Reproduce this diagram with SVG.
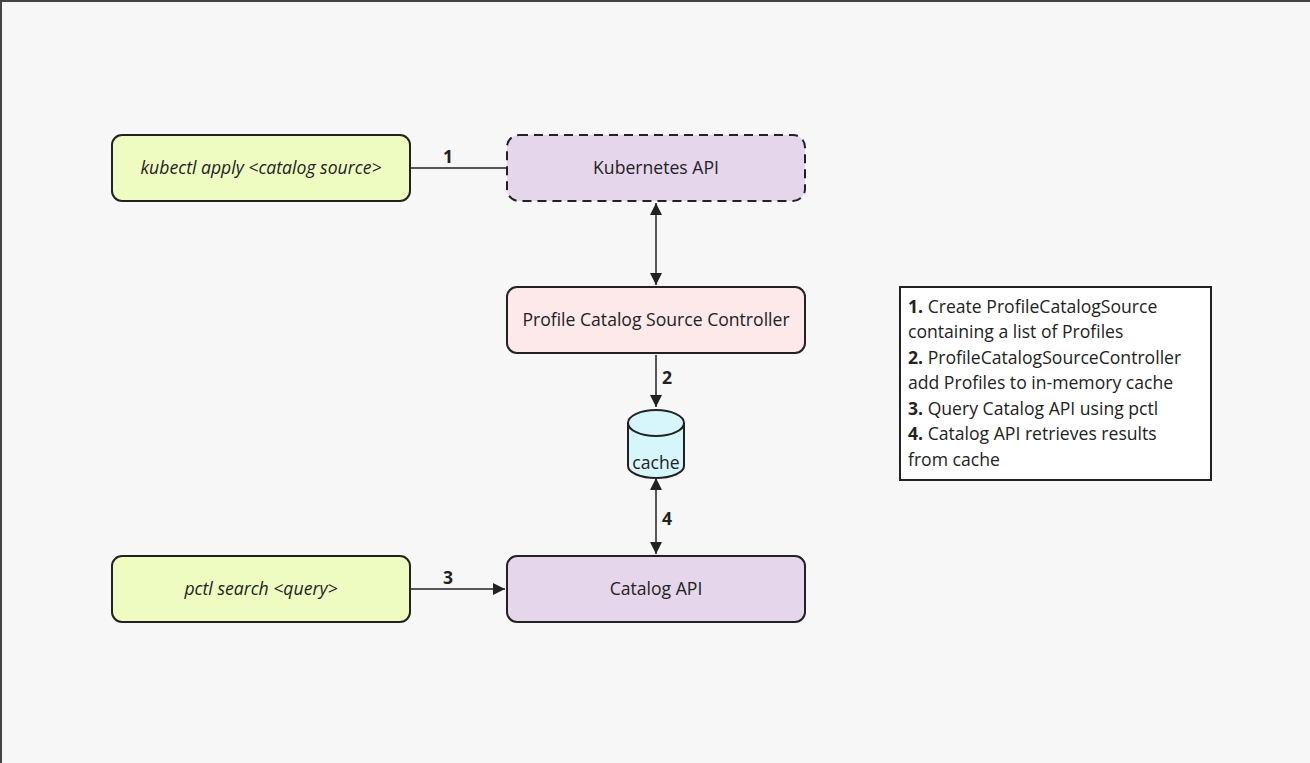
<svg xmlns="http://www.w3.org/2000/svg" width="1310" height="763" viewBox="0 0 1310 763">
<style>
.bg{fill:#f7f7f7}
.box{stroke:#222;stroke-width:2}
.lime{fill:#eefcc2}
.lav{fill:#e5d6ec}
.pink{fill:#fde9e9}
.t{font-family:"Open Sans","Noto Sans","Liberation Sans",sans-serif;font-size:17.6px;fill:#222}
.c{text-anchor:middle}
.i{font-style:italic}
.b{font-weight:bold}
.conn{stroke:#222;stroke-width:1.5;fill:none}
</style>
<defs>
<marker id="ah" viewBox="0 0 10 10" refX="10" refY="5" markerWidth="12" markerHeight="12" markerUnits="userSpaceOnUse" orient="auto-start-reverse">
<path d="M0,0 L10,5 L0,10 Z" fill="#222"/>
</marker>
</defs>
<rect class="bg" x="0" y="0" width="1310" height="763"/>
<path d="M1,763 L1,1 L1310,1" stroke="#444" stroke-width="2" fill="none"/>
<g id="connectors">
<line class="conn" x1="411" y1="168" x2="506" y2="168"/>
<text class="t b c" x="448" y="163">1</text>
<line class="conn" x1="656" y1="203" x2="656" y2="285" marker-start="url(#ah)" marker-end="url(#ah)"/>
<line class="conn" x1="656" y1="355" x2="656" y2="407" marker-end="url(#ah)"/>
<text class="t b c" x="667" y="384">2</text>
<line class="conn" x1="656" y1="478" x2="656" y2="554" marker-start="url(#ah)" marker-end="url(#ah)"/>
<text class="t b c" x="667" y="525">4</text>
<line class="conn" x1="411" y1="589" x2="505" y2="589" marker-end="url(#ah)"/>
<text class="t b c" x="448" y="584">3</text>
</g>
<g id="kubectl">
<rect class="box lime" x="112" y="135" width="298" height="66" rx="10"/>
<text class="t i c" x="261" y="174">kubectl apply &lt;catalog source&gt;</text>
</g>
<g id="k8s-api">
<rect class="lav" x="507" y="135" width="298" height="66" rx="12" stroke="#222" stroke-width="2" stroke-dasharray="9,6"/>
<text class="t c" x="656" y="174">Kubernetes API</text>
</g>
<g id="controller">
<rect class="box pink" x="507" y="287" width="298" height="66" rx="10"/>
<text class="t c" x="656" y="326">Profile Catalog Source Controller</text>
</g>
<g id="cache">
<path d="M628,423 L628,466 A28,12 0 0 0 684,466 L684,423" fill="#d6f6fc" stroke="#222" stroke-width="2"/>
<ellipse cx="656" cy="423" rx="28" ry="13" fill="#d6f6fc" stroke="#222" stroke-width="2"/>
<text class="t c" x="656" y="469">cache</text>
</g>
<g id="pctl">
<rect class="box lime" x="112" y="556" width="298" height="66" rx="10"/>
<text class="t i c" x="261" y="595">pctl search &lt;query&gt;</text>
</g>
<g id="catalog-api">
<rect class="box lav" x="507" y="556" width="298" height="66" rx="10"/>
<text class="t c" x="656" y="595">Catalog API</text>
</g>
<g id="legend">
<rect x="900" y="287" width="311" height="193" fill="#fff" stroke="#222" stroke-width="2"/>
<text class="t" x="908" y="313"><tspan class="b">1.</tspan> Create ProfileCatalogSource</text>
<text class="t" x="908" y="338">containing a list of Profiles</text>
<text class="t" x="908" y="364"><tspan class="b">2.</tspan> ProfileCatalogSourceController</text>
<text class="t" x="908" y="389">add Profiles to in-memory cache</text>
<text class="t" x="908" y="415"><tspan class="b">3.</tspan> Query Catalog API using pctl</text>
<text class="t" x="908" y="440"><tspan class="b">4.</tspan> Catalog API retrieves results</text>
<text class="t" x="908" y="466">from cache</text>
</g>
</svg>
